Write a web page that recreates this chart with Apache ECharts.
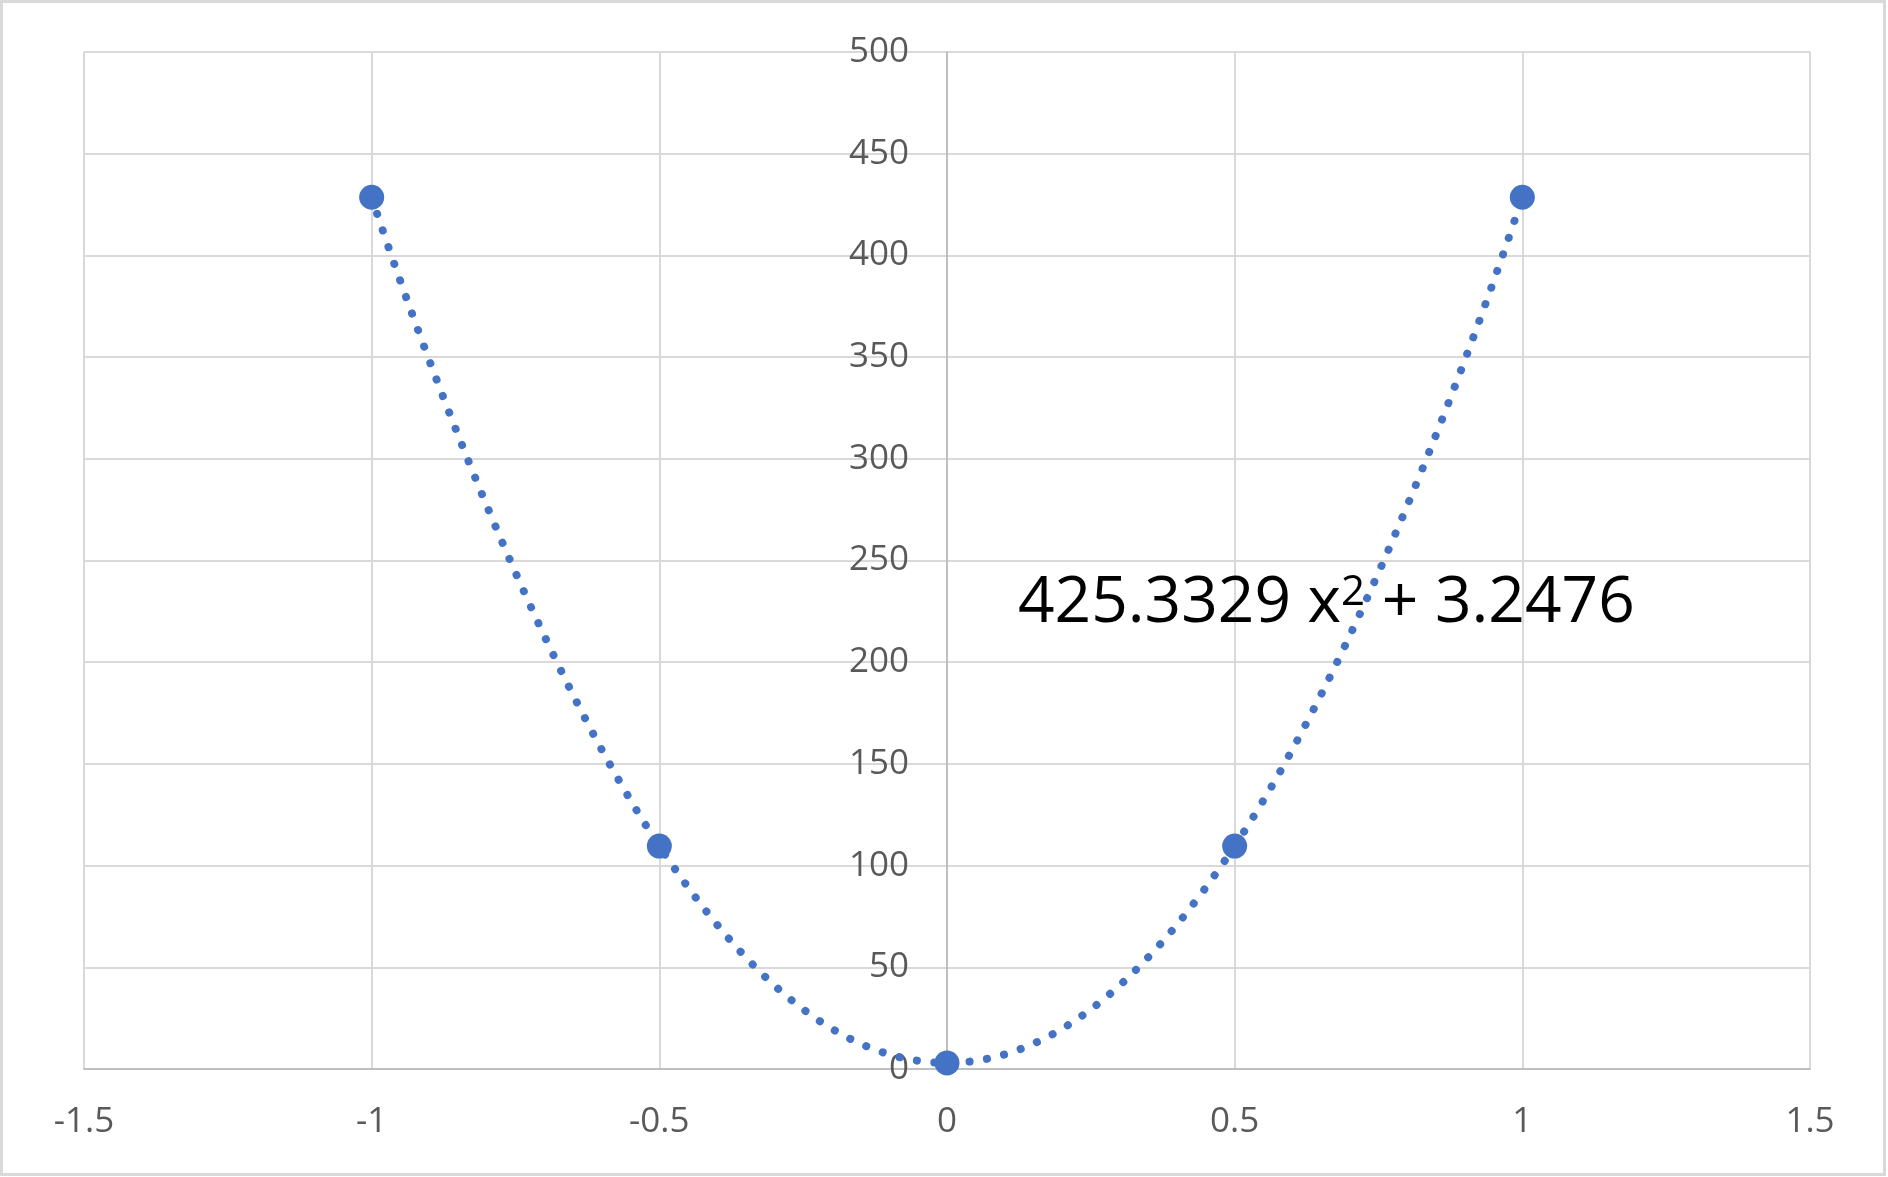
<!DOCTYPE html>
<html>
<head>
<meta charset="utf-8">
<script src="https://cdn.jsdelivr.net/npm/echarts@6/dist/echarts.min.js"></script>
<style>
html,body{margin:0;padding:0;background:#fff;}
#chart{width:1888px;height:1177px;}
</style>
</head>
<body>
<div id="chart"></div>
<script>
// Data
const xValues = [-1, -0.5, 0, 0.5, 1];
const yValues = [428.6, 109.6, 3.0, 109.6, 428.6];
const xTickLabels = ['-1.5', '-1', '-0.5', '0', '0.5', '1', '1.5'];
const yTickLabels = ['0', '50', '100', '150', '200', '250', '300', '350', '400', '450', '500'];
const equationMain = '425.3329 x';
const equationSup = '2';
const equationTail = ' + 3.2476';

const points = xValues.map((x, i) => [x, yValues[i]]);
const blue = '#4472C4';
const font = '"Open Sans", "Noto Sans", sans-serif';

const chart = echarts.init(document.getElementById('chart'));
chart.setOption({
  animation: false,
  backgroundColor: '#ffffff',
  grid: { left: 84, right: 78, top: 52, bottom: 108, containLabel: false, outerBoundsMode: 'none' },
  xAxis: {
    type: 'value', min: -1.5, max: 1.5, interval: 0.5,
    axisLine: { show: true, onZero: false, lineStyle: { color: '#bfbfbf', width: 2 } },
    axisTick: { show: false },
    splitLine: { show: true, lineStyle: { color: '#d9d9d9', width: 2 } },
    axisLabel: {
      fontSize: 35, color: '#595959', fontFamily: font, margin: 36,
      formatter: (v) => { const i = Math.round((v + 1.5) / 0.5); return xTickLabels[i] !== undefined ? xTickLabels[i] : String(v); }
    }
  },
  yAxis: {
    type: 'value', min: 0, max: 500, interval: 50,
    position: 'left',
    offset: -863,
    axisLine: { show: true, onZero: false, lineStyle: { color: '#bfbfbf', width: 2 } },
    axisTick: { show: false },
    splitLine: { show: true, lineStyle: { color: '#d9d9d9', width: 2 } },
    axisLabel: {
      fontSize: 35, color: '#595959', fontFamily: font, margin: 38,
      formatter: (v) => { const i = Math.round(v / 50); return yTickLabels[i] !== undefined ? yTickLabels[i] : String(v); }
    }
  },
  series: [
    {
      type: 'line',
      data: points,
      smooth: 0.4,
      showSymbol: false,
      symbol: 'none',
      lineStyle: { color: blue, width: 8, type: [0.1, 17.5], cap: 'round' },
      z: 3
    },
    {
      type: 'scatter',
      data: points,
      symbol: 'circle',
      symbolSize: 25,
      itemStyle: { color: blue, opacity: 1 },
      z: 2
    }
  ],
  graphic: [
    {
      type: 'rect',
      shape: { x: 1.5, y: 1.5, width: 1883, height: 1173 },
      style: { fill: 'none', stroke: '#d9d9d9', lineWidth: 3 },
      silent: true
    },
    {
      type: 'text',
      x: 1018, y: 604,
      z: 100,
      style: {
        text: '{a|' + equationMain + '}{s|' + equationSup + '}{a|' + equationTail + '}',
        textAlign: 'left',
        textVerticalAlign: 'middle',
        rich: {
          a: { fontSize: 64, fontFamily: font, fill: '#000000', lineHeight: 64, verticalAlign: 'bottom' },
          s: { fontSize: 42, fontFamily: font, fill: '#000000', lineHeight: 34, verticalAlign: 'top' }
        }
      }
    }
  ]
});
</script>
</body>
</html>
